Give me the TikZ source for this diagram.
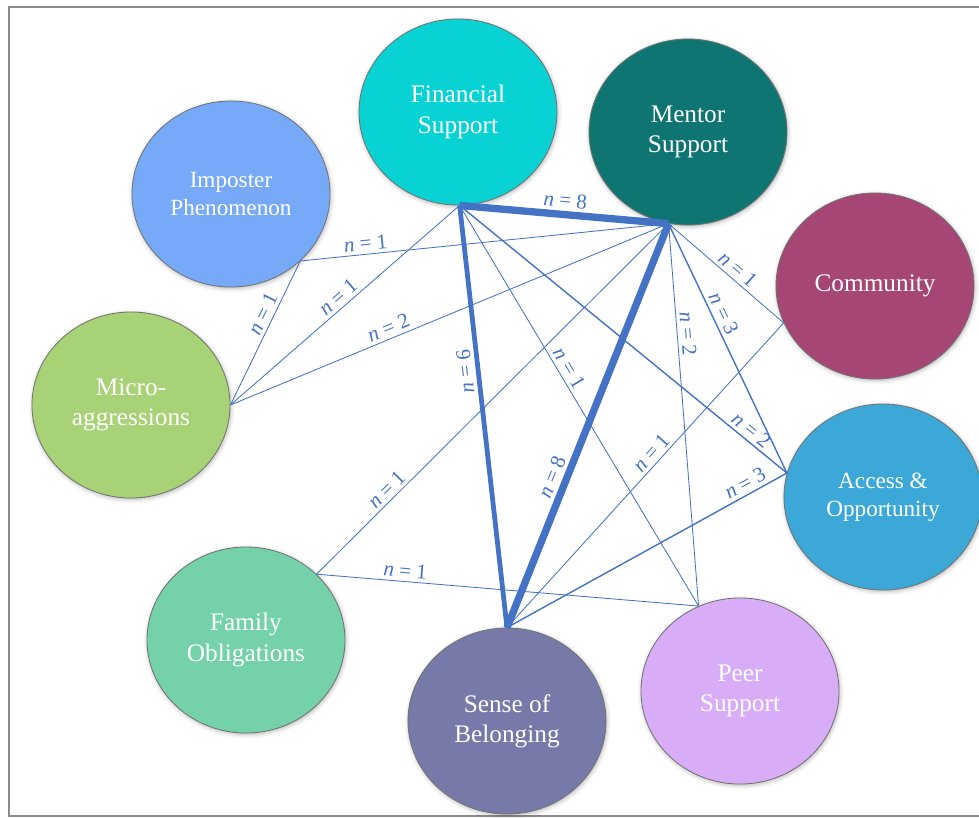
\documentclass[tikz,border=0pt]{standalone}
\usepackage{fontspec}
\setmainfont{Liberation Serif}
\usetikzlibrary{shapes.geometric,shadows.blur}

\definecolor{linkblue}{HTML}{4472C4}
\definecolor{fincol}{HTML}{08D2D4}
\definecolor{mentcol}{HTML}{0E7572}
\definecolor{impcol}{HTML}{77A9F9}
\definecolor{commcol}{HTML}{A54674}
\definecolor{microcol}{HTML}{A8D276}
\definecolor{accesscol}{HTML}{3BA8D7}
\definecolor{famcol}{HTML}{74D1A9}
\definecolor{belongcol}{HTML}{7779A8}
\definecolor{peercol}{HTML}{D9ACF8}

\begin{document}
\begin{tikzpicture}[x=0.025cm,y=-0.025cm,
    theme/.style={ellipse,draw=black!55,line width=0.6pt,minimum width=4.95cm,
      minimum height=4.65cm,inner sep=0pt,align=center,text=white,
      font=\fontsize{18}{21.5}\selectfont,
      blur shadow={shadow blur radius=3pt,shadow xshift=0.6pt,shadow yshift=-1pt,shadow opacity=30}},
    link/.style={draw=linkblue,line width=0.6pt},
    mid/.style={draw=linkblue,line width=1pt},
    heavy/.style={draw=linkblue,line width=3.4pt},
    heaviest/.style={draw=linkblue,line width=5.2pt},
    count/.style={sloped,above,text=linkblue,inner sep=2.5pt,font=\fontsize{15}{17}\selectfont}]

  \useasboundingbox (0,0) rectangle (979,817);
  \draw[black!45,line width=1.3pt] (990,7) -- (9,7) -- (9,816) -- (990,816);

  \node[theme,fill=fincol] (fs) at (458,112) {Financial\\Support};
  \node[theme,fill=mentcol] (ms) at (688,132) {Mentor\\Support};
  \node[theme,fill=impcol,font=\fontsize{16.5}{19.5}\selectfont] (ip) at (231,194) {Imposter\\Phenomenon};
  \node[theme,fill=commcol] (co) at (875,286) {Community};
  \node[theme,fill=microcol] (ma) at (131,405) {Micro-\\aggressions};
  \node[theme,fill=accesscol,font=\fontsize{16.5}{20}\selectfont] (ao) at (883,497) {Access \&\\Opportunity};
  \node[theme,fill=famcol] (fo) at (246,640) {Family\\Obligations};
  \node[theme,fill=belongcol] (sb) at (507,721) {Sense of\\Belonging};
  \node[theme,fill=peercol] (ps) at (740,691) {Peer\\Support};

  \draw[link] (ip.316) -- node[count,pos=0.18] {\textit{n} = 1} (ms.258);
  \draw[link] (ma.0) -- node[count,pos=0.6] {\textit{n} = 1} (ip.316);
  \draw[link] (ma.0) -- node[count,pos=0.5] {\textit{n} = 1} (fs.271);
  \draw[link] (ma.0) -- node[count,pos=0.37] {\textit{n} = 2} (ms.258);
  \draw[link] (fo.43) -- node[count,pos=0.22] {\textit{n} = 1} (ms.258);
  \draw[link] (fo.43) -- node[count,pos=0.23] {\textit{n} = 1} (ps.116);
  \draw[link] (fs.271) -- node[count,pos=0.42] {\textit{n} = 1} (ps.116);
  \draw[mid] (fs.271) -- node[count,pos=0.87] {\textit{n} = 2} (ao.166);
  \draw[link] (ms.258) -- node[count,pos=0.54] {\textit{n} = 1} (co.202);
  \draw[mid] (ms.258) -- node[count,pos=0.38] {\textit{n} = 3} (ao.166);
  \draw[link] (ms.258) -- node[count,pos=0.29] {\textit{n} = 2} (ps.116);
  \draw[link] (sb.90) -- node[count,pos=0.55] {\textit{n} = 1} (co.202);
  \draw[mid] (sb.90) -- node[count,pos=0.87] {\textit{n} = 3} (ao.166);

  \draw[heavy] (sb.90) -- node[count,pos=0.61,allow upside down] {\textit{n} = 6} (fs.271);
  \draw[heaviest] (sb.90) -- node[count,pos=0.36] {\textit{n} = 8} (ms.258);
  \draw[heaviest] (fs.271) -- node[count,pos=0.5] {\textit{n} = 8} (ms.258);
\end{tikzpicture}
\end{document}
